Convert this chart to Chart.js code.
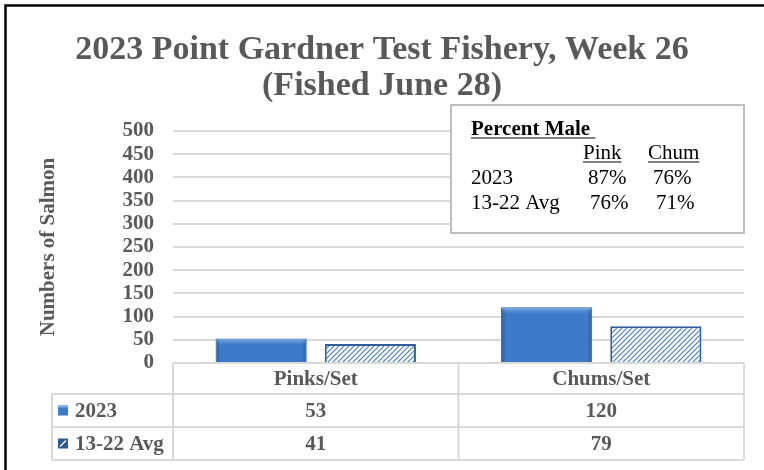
<!DOCTYPE html>
<html>
<head>
<meta charset="utf-8">
<script src="https://cdn.jsdelivr.net/npm/chart.js@4.4.0/dist/chart.umd.min.js"></script>
<style>
  html, body { margin: 0; padding: 0; background: #fff; }
</style>
</head>
<body>
<canvas id="myChart" width="764" height="470"></canvas>
<script>
// data
var categories = ['Pinks/Set', 'Chums/Set'];
var seriesNames = ['2023', '13-22 Avg'];
var values2023 = [53, 120];
var valuesAvg = [41, 79];
var yMax = 500;
var yStep = 50;

// "Percent Male" text box
var maleTitle = 'Percent Male';
var maleCols = ['Pink', 'Chum'];
var maleRows = ['2023', '13-22 Avg'];
var malePink = ['87%', '76%'];
var maleChum = ['76%', '71%'];

var serif = "'Liberation Serif', 'Times New Roman', serif";
var grey = '#595959';
var lineGrey = '#d9d9d9';
var blue = '#3d7bc8';
var blueDark = '#2d5f9e';

function makeHatch(bg, fg) {
  var c = document.createElement('canvas');
  c.width = 5; c.height = 5;
  var x = c.getContext('2d');
  x.fillStyle = bg;
  x.fillRect(0, 0, 5, 5);
  x.strokeStyle = fg;
  x.lineWidth = 1.2;
  x.beginPath();
  x.moveTo(-1, 6); x.lineTo(6, -1);
  x.moveTo(-3.5, 3.5); x.lineTo(3.5, -3.5);
  x.moveTo(1.5, 8.5); x.lineTo(8.5, 1.5);
  x.stroke();
  return x.createPattern(c, 'repeat');
}
var hatch = makeHatch('#ffffff', '#4a7fc2');

// white page + the black frame of the original picture
var frame = {
  id: 'frame',
  beforeDraw: function (chart) {
    var ctx = chart.ctx;
    ctx.save();
    ctx.fillStyle = '#fff';
    ctx.fillRect(0, 0, chart.width, chart.height);
    ctx.strokeStyle = '#000';
    ctx.lineWidth = 2.5;
    ctx.strokeRect(5.5, 5.5, chart.width + 20, chart.height + 20);
    ctx.restore();
  }
};

// bevel look on the 2023 bars
var bevel = {
  id: 'bevel',
  afterDatasetsDraw: function (chart) {
    var ctx = chart.ctx;
    var meta = chart.getDatasetMeta(0);
    ctx.save();
    meta.data.forEach(function (bar) {
      var l = bar.x - bar.width / 2, r = bar.x + bar.width / 2;
      var t = bar.y, b = bar.base;
      var g = ctx.createLinearGradient(0, t, 0, t + 7);
      g.addColorStop(0, '#8bb8ec');
      g.addColorStop(1, 'rgba(90,145,215,0)');
      ctx.fillStyle = g;
      ctx.fillRect(l + 1, t + 1, r - l - 2, 7);
      var gl = ctx.createLinearGradient(l, 0, l + 5, 0);
      gl.addColorStop(0, 'rgba(30,70,130,0.6)');
      gl.addColorStop(1, 'rgba(30,70,130,0)');
      ctx.fillStyle = gl;
      ctx.fillRect(l + 1, t + 2, 5, b - t - 2);
      var gr = ctx.createLinearGradient(r - 5, 0, r, 0);
      gr.addColorStop(0, 'rgba(30,70,130,0)');
      gr.addColorStop(1, 'rgba(30,70,130,0.6)');
      ctx.fillStyle = gr;
      ctx.fillRect(r - 6, t + 2, 5, b - t - 2);
    });
    ctx.restore();
  }
};

// data table under the plot + percent male box
var extras = {
  id: 'extras',
  afterDraw: function (chart) {
    var ctx = chart.ctx;
    var a = chart.chartArea;
    var xs = chart.scales.x;
    var r0 = a.bottom, r1 = r0 + 31, r2 = r1 + 33, r3 = r2 + 33;
    var legLeft = 52;
    var mid = (xs.getPixelForValue(0) + xs.getPixelForValue(1)) / 2;

    ctx.save();
    ctx.strokeStyle = lineGrey;
    ctx.lineWidth = 2;
    ctx.beginPath();
    ctx.moveTo(a.left, r0); ctx.lineTo(a.right, r0);
    [r1, r2, r3].forEach(function (y) { ctx.moveTo(legLeft, y); ctx.lineTo(a.right, y); });
    ctx.moveTo(a.left, r0); ctx.lineTo(a.left, r3);
    ctx.moveTo(mid, r0); ctx.lineTo(mid, r3);
    ctx.moveTo(a.right, r0); ctx.lineTo(a.right, r3);
    ctx.moveTo(legLeft, r1); ctx.lineTo(legLeft, r3);
    ctx.stroke();

    ctx.fillStyle = grey;
    ctx.font = 'bold 21px ' + serif;
    ctx.textAlign = 'center';
    ctx.textBaseline = 'middle';
    var rows = [values2023, valuesAvg];
    categories.forEach(function (c, i) {
      var x = xs.getPixelForValue(i);
      ctx.fillText(c, x, (r0 + r1) / 2 + 1);
      ctx.fillText(String(rows[0][i]), x, (r1 + r2) / 2 + 1);
      ctx.fillText(String(rows[1][i]), x, (r2 + r3) / 2 + 1);
    });

    // legend keys
    ctx.textAlign = 'left';
    var ys = [(r1 + r2) / 2, (r2 + r3) / 2];
    seriesNames.forEach(function (n, i) {
      var ky = ys[i] - 5;
      if (i === 0) {
        ctx.fillStyle = blue;
        ctx.fillRect(58, ky, 10, 10);
        ctx.fillStyle = '#7fb0ea';
        ctx.fillRect(58, ky, 10, 2);
      } else {
        ctx.fillStyle = '#2e5a92';
        ctx.fillRect(58, ky, 10, 10);
        ctx.strokeStyle = '#fff';
        ctx.lineWidth = 1.3;
        ctx.beginPath();
        ctx.moveTo(60, ky + 8); ctx.lineTo(66, ky + 2);
        ctx.stroke();
      }
      ctx.fillStyle = grey;
      ctx.fillText(n, 75, ys[i] + 1);
    });

    // percent male box
    var bx = 451, by = 105, bw = a.right - bx, bh = 128;
    ctx.fillStyle = '#fff';
    ctx.fillRect(bx, by, bw, bh);
    ctx.strokeStyle = '#bfbfbf';
    ctx.lineWidth = 2;
    ctx.strokeRect(bx, by, bw, bh);

    ctx.fillStyle = '#000';
    ctx.strokeStyle = '#000';
    ctx.lineWidth = 1.2;
    ctx.textBaseline = 'alphabetic';
    ctx.textAlign = 'left';
    ctx.font = 'bold 21px ' + serif;
    ctx.fillText(maleTitle, 471, 135);
    var tw = ctx.measureText(maleTitle + ' ').width;
    ctx.beginPath(); ctx.moveTo(471, 138); ctx.lineTo(471 + tw, 138); ctx.stroke();

    ctx.font = '21px ' + serif;
    var colX = [583, 648];
    maleCols.forEach(function (c, i) {
      ctx.fillText(c, colX[i], 159);
      var w = ctx.measureText(c).width;
      ctx.beginPath(); ctx.moveTo(colX[i], 162); ctx.lineTo(colX[i] + w, 162); ctx.stroke();
    });
    var rowY = [184, 209];
    maleRows.forEach(function (rn, i) {
      ctx.fillText(rn, 471, rowY[i]);
      ctx.fillText(malePink[i], i === 0 ? 588 : 590, rowY[i]);
      ctx.fillText(maleChum[i], i === 0 ? 653 : 656, rowY[i]);
    });
    ctx.restore();
  }
};

new Chart('myChart', {
  type: 'bar',
  data: {
    labels: categories,
    datasets: [{
      label: seriesNames[0],
      data: values2023,
      backgroundColor: blue,
      borderColor: blueDark,
      borderWidth: 1
    }, {
      label: seriesNames[1],
      data: valuesAvg,
      backgroundColor: hatch,
      borderColor: '#2f5e9c',
      borderWidth: 2
    }]
  },
  options: {
    responsive: false,
    animation: false,
    categoryPercentage: 0.765,
    barPercentage: 0.835,
    layout: { padding: { left: 20, right: 20, top: 0, bottom: 107 } },
    plugins: {
      legend: { display: false },
      tooltip: { enabled: false },
      title: {
        display: true,
        text: ['2023 Point Gardner Test Fishery, Week 26', '(Fished June 28)'],
        color: grey,
        font: { family: serif, size: 34, weight: 'bold', lineHeight: 36 / 34 },
        padding: { top: 32, bottom: 27 }
      }
    },
    scales: {
      x: { display: false },
      y: {
        min: 0,
        max: yMax,
        ticks: {
          stepSize: yStep,
          autoSkip: false,
          color: grey,
          padding: 19,
          font: { family: serif, size: 21, weight: 'bold', lineHeight: 1 }
        },
        grid: { color: lineGrey, lineWidth: 2, drawTicks: false },
        border: { display: false },
        title: {
          display: true,
          text: 'Numbers of Salmon',
          color: grey,
          font: { family: serif, size: 21, weight: 'bold' },
          padding: { top: 16, bottom: 0 }
        },
        afterFit: function (scale) { scale.width = 153; }
      }
    }
  },
  plugins: [frame, bevel, extras]
});
</script>
</body>
</html>
